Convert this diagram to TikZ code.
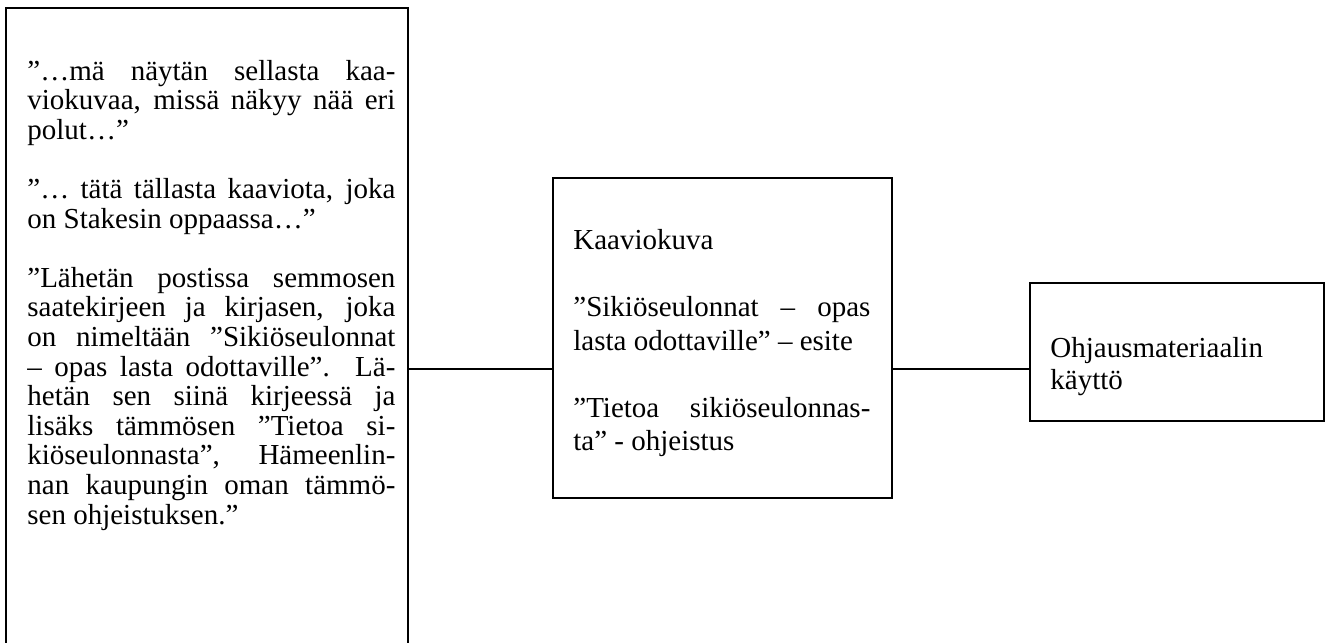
\documentclass[tikz,border=0pt]{standalone}
\usepackage{fontspec}
\setmainfont{Liberation Serif}
\begin{document}
\begin{tikzpicture}[x=0.5pt,y=-0.5pt,
  frame/.style={draw=black, line width=1pt, rectangle, inner sep=0pt, anchor=north west},
  body/.style={anchor=north west, inner sep=0pt, text width=#1, align=justify},
  link/.style={draw=black, line width=1pt}]
\useasboundingbox (0,0) rectangle (1331,642);
\clip (0,0) rectangle (1331,642);

% boxes
\node[frame, minimum width=201pt, minimum height=346.5pt] (quotes) at (5,7) {};
\node[frame, minimum width=169.5pt, minimum height=160pt] (material) at (552,177) {};
\node[frame, minimum width=147pt, minimum height=69pt] (use) at (1029,282) {};

% quotations
\node[body=184pt, font=\fontsize{14.5}{14.8}\selectfont] (quotestext) at (27,59) {\strut
”…mä näytän sellasta kaa-\linebreak
viokuvaa, missä näkyy nää eri\linebreak
polut…”\par\vspace{14.8pt}
”… tätä tällasta kaaviota, joka\linebreak
on Stakesin oppaassa…”\par\vspace{14.8pt}
”Lähetän postissa semmosen\linebreak
saatekirjeen ja kirjasen, joka\linebreak
on nimeltään ”Sikiöseulonnat\linebreak
– opas lasta odottaville”. Lä-\linebreak
hetän sen siinä kirjeessä ja\linebreak
lisäks tämmösen ”Tietoa si-\linebreak
kiöseulonnasta”,\ \ Hämeenlin-\linebreak
nan kaupungin oman tämmö-\linebreak
sen ohjeistuksen.”};

% material
\node[body=148.5pt, font=\fontsize{14.5}{16.75}\selectfont] (materialtext) at (573,226) {\strut
Kaaviokuva\par\vspace{16.75pt}
”Sikiöseulonnat – opas\linebreak
lasta odottaville” – esite\par\vspace{16.75pt}
”Tietoa sikiöseulonnas-\linebreak
ta” - ohjeistus};

% use of material
\node[body=130pt, align=left, font=\fontsize{14.5}{16}\selectfont] (usetext) at (1050,335) {\strut
Ohjausmateriaalin\\
käyttö};

% connectors
\coordinate (mid) at (0,369);
\draw[link] (quotes.east |- mid) -- (material.west |- mid);
\draw[link] (material.east |- mid) -- (use.west |- mid);
\end{tikzpicture}
\end{document}
